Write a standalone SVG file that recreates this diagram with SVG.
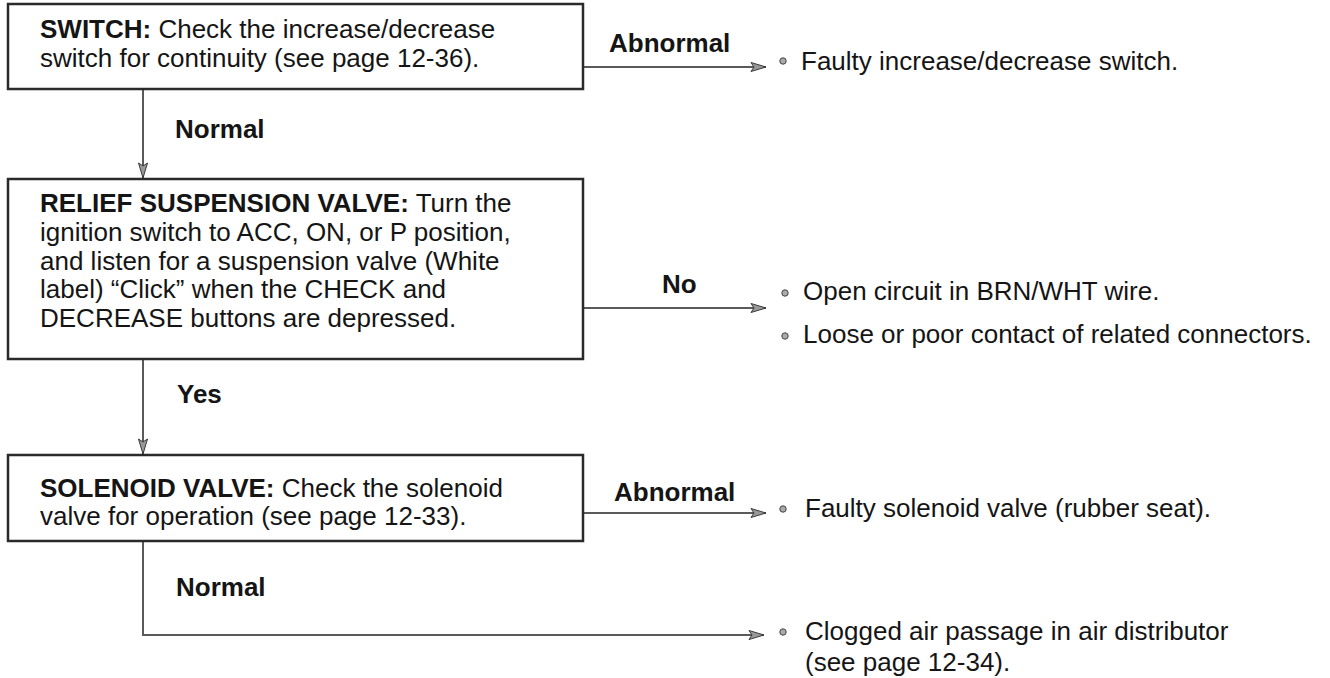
<svg xmlns="http://www.w3.org/2000/svg" width="1330" height="678" viewBox="0 0 1330 678">
<defs>
<style>
.box{fill:#fff;stroke:#2a2a2a;stroke-width:2.5}
.t{font-family:"Liberation Sans",Arial,Helvetica,sans-serif;font-size:26px;fill:#151515}
.b{font-weight:bold}
.ln{fill:none;stroke:#5a5a5a;stroke-width:2}
.bul{fill:#aaa;stroke:#444;stroke-width:1}
</style>
<marker id="ah" markerWidth="17" markerHeight="12" refX="16" refY="6" orient="auto" markerUnits="userSpaceOnUse">
<path d="M1,1.5 L16,6 L1,10.5 L4,6 Z" fill="#999" stroke="#3a3a3a" stroke-width="1"/>
</marker>
</defs>
<rect width="1330" height="678" fill="#fff"/>
<g id="connectors">
<line class="ln" x1="143" y1="89" x2="143" y2="178" marker-end="url(#ah)"/>
<line class="ln" x1="143" y1="359" x2="143" y2="454" marker-end="url(#ah)"/>
<line class="ln" x1="583" y1="67" x2="766" y2="67" marker-end="url(#ah)"/>
<line class="ln" x1="583" y1="308" x2="766" y2="308" marker-end="url(#ah)"/>
<line class="ln" x1="583" y1="513" x2="766" y2="513" marker-end="url(#ah)"/>
<polyline class="ln" points="143,541 143,635 764,635" marker-end="url(#ah)"/>
<text class="t b" x="175" y="138">Normal</text>
<text class="t b" x="609" y="52">Abnormal</text>
<text class="t b" x="662" y="293">No</text>
<text class="t b" x="177" y="403">Yes</text>
<text class="t b" x="614" y="501">Abnormal</text>
<text class="t b" x="176" y="596">Normal</text>
</g>
<g id="switch">
<rect class="box" x="8" y="4" width="575" height="85"/>
<text class="t" x="40" y="38"><tspan class="b">SWITCH:</tspan> Check the increase/decrease</text>
<text class="t" x="40" y="67">switch for continuity (see page 12-36).</text>
</g>
<g id="relief">
<rect class="box" x="8" y="179" width="575" height="180"/>
<text class="t" x="40" y="212"><tspan class="b">RELIEF SUSPENSION VALVE:</tspan> Turn the</text>
<text class="t" x="40" y="241">ignition switch to ACC, ON, or P position,</text>
<text class="t" x="40" y="270">and listen for a suspension valve (White</text>
<text class="t" x="40" y="298">label) “Click” when the CHECK and</text>
<text class="t" x="40" y="327">DECREASE buttons are depressed.</text>
</g>
<g id="solenoid">
<rect class="box" x="8" y="455" width="575" height="86"/>
<text class="t" x="40" y="497"><tspan class="b">SOLENOID VALVE:</tspan> Check the solenoid</text>
<text class="t" x="40" y="525">valve for operation (see page 12-33).</text>
</g>
<g id="result-switch">
<circle class="bul" cx="783" cy="61" r="3.2"/>
<text class="t" x="801" y="70">Faulty increase/decrease switch.</text>
</g>
<g id="result-relief">
<circle class="bul" cx="785" cy="293" r="3.2"/>
<text class="t" x="803" y="300">Open circuit in BRN/WHT wire.</text>
<circle class="bul" cx="785" cy="336" r="3.2"/>
<text class="t" x="803" y="343">Loose or poor contact of related connectors.</text>
</g>
<g id="result-solenoid">
<circle class="bul" cx="783" cy="509" r="3.2"/>
<text class="t" x="805" y="517">Faulty solenoid valve (rubber seat).</text>
</g>
<g id="result-normal">
<circle class="bul" cx="783" cy="632" r="3.2"/>
<text class="t" x="805" y="640">Clogged air passage in air distributor</text>
<text class="t" x="805" y="671">(see page 12-34).</text>
</g>
</svg>
